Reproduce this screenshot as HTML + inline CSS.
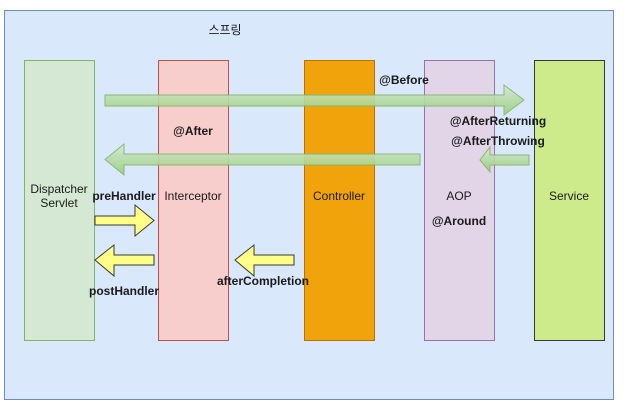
<!DOCTYPE html>
<html><head><meta charset="utf-8"><style>
body{margin:0;background:#fff;}
svg text{font-family:"Liberation Sans","Noto Sans CJK KR",sans-serif;font-size:12px;fill:#1a1a1a;}
.b{font-weight:bold;}
</style></head><body>
<svg width="624" height="410" viewBox="0 0 624 410" xmlns="http://www.w3.org/2000/svg">
<defs>
<linearGradient id="g" x1="0" y1="0" x2="0" y2="1"><stop offset="0" stop-color="#d5e8d4"/><stop offset="1" stop-color="#97d077"/></linearGradient>
</defs>
<rect x="4.5" y="10.5" width="609" height="389" fill="#dae8fc" stroke="#6c8ebf"/>
<rect x="24.5" y="60.5" width="70" height="280" fill="#d5e8d4" stroke="#82b366"/>
<rect x="158.5" y="60.5" width="70" height="280" fill="#f8cecc" stroke="#b85450"/>
<rect x="304.5" y="60.5" width="70" height="280" fill="#f0a30a" stroke="#bd7000"/>
<rect x="424.5" y="60.5" width="70" height="280" fill="#e1d5e7" stroke="#9673a6"/>
<rect x="534.5" y="60.5" width="70" height="280" fill="#cdeb8b" stroke="#36393d"/>
<g fill="url(#g)" stroke="#82b366" opacity="0.9">
<polygon points="105,95 504,95 504,85 524,100 504,115 504,106 105,106"/>
<polygon points="420,154 124,154 124,144 105,159.5 124,175 124,165 420,165"/>
<polygon points="529,155 490,155 490,147 480,160 490,172 490,165 529,165"/>
</g>
<g fill="#ffff88" stroke="#36393d">
<polygon points="95,216 135,216 135,205 154,220.5 135,236 135,225 95,225"/>
<polygon points="154,255 114,255 114,245 95,260 114,276 114,265 154,265"/>
<polygon points="294,255 254,255 254,245 235,260 254,276 254,265 294,265"/>
</g>
<text x="225" y="34" text-anchor="middle">스프링</text>
<text x="59" y="193" text-anchor="middle">Dispatcher</text>
<text x="59" y="207" text-anchor="middle">Servlet</text>
<text x="193" y="200" text-anchor="middle">Interceptor</text>
<text x="339" y="200" text-anchor="middle">Controller</text>
<text x="459" y="200" text-anchor="middle">AOP</text>
<text x="569" y="200" text-anchor="middle">Service</text>
<text class="b" x="193" y="135" text-anchor="middle">@After</text>
<text class="b" x="124" y="200" text-anchor="middle">preHandler</text>
<text class="b" x="124" y="295" text-anchor="middle">postHandler</text>
<text class="b" x="263" y="285" text-anchor="middle">afterCompletion</text>
<text class="b" x="404" y="84" text-anchor="middle">@Before</text>
<text class="b" x="498" y="125" text-anchor="middle">@AfterReturning</text>
<text class="b" x="498" y="145" text-anchor="middle">@AfterThrowing</text>
<text class="b" x="459" y="225" text-anchor="middle">@Around</text>
</svg>
</body></html>
